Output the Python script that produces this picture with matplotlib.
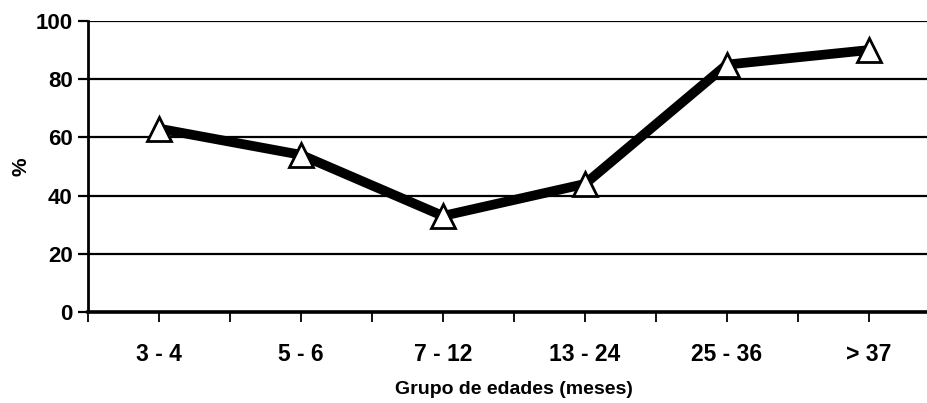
import matplotlib
matplotlib.use("Agg")
import matplotlib.pyplot as plt
import numpy as np

# Age groups (months) and percentage per group
age_groups = ["3 - 4", "5 - 6", "7 - 12", "13 - 24", "25 - 36", "> 37"]
percent = [63, 54, 33, 44, 85, 90]
y_ticks = [0, 20, 40, 60, 80, 100]

plt.rcParams["font.family"] = ["Liberation Sans", "DejaVu Sans"]
plt.rcParams["font.weight"] = "bold"

fig = plt.figure(figsize=(9.27, 4.03), dpi=100)
ax = fig.add_axes([0.0949, 0.2258, 0.919, 0.7222])

x = np.arange(len(age_groups))
ax.plot(x, percent, color="black", lw=7, solid_capstyle="butt", zorder=3)
ax.plot(x, percent, linestyle="none", marker="^", ms=17, mfc="white",
        mec="black", mew=2, zorder=4)

ax.set_xlim(-0.5, len(age_groups) - 0.5)
ax.set_ylim(0, 100)
ax.set_yticks(y_ticks)
ax.set_yticklabels([str(v) for v in y_ticks], fontsize=16, fontweight="bold")
ax.set_xticks(x)
ax.set_xticklabels(age_groups, fontsize=16.5, fontweight="bold")
ax.set_xticks(np.arange(-0.5, len(age_groups), 1.0), minor=True)

for v in y_ticks[1:]:
    ax.axhline(v, color="black", lw=1.6, zorder=1)

for side in ["top", "right"]:
    ax.spines[side].set_visible(False)
ax.spines["left"].set_linewidth(2)
ax.spines["bottom"].set_linewidth(2.6)

ax.tick_params(axis="y", which="major", length=7, width=1.6, pad=4)
ax.tick_params(axis="x", which="both", length=7, width=1.3, pad=15)

ax.set_ylabel("%", fontsize=15, fontweight="bold")
ax.yaxis.set_label_coords(-0.068, 0.5)
ax.set_xlabel("Grupo de edades (meses)", fontsize=14, fontweight="bold",
              labelpad=11)

fig.savefig("out.png", dpi=100)
